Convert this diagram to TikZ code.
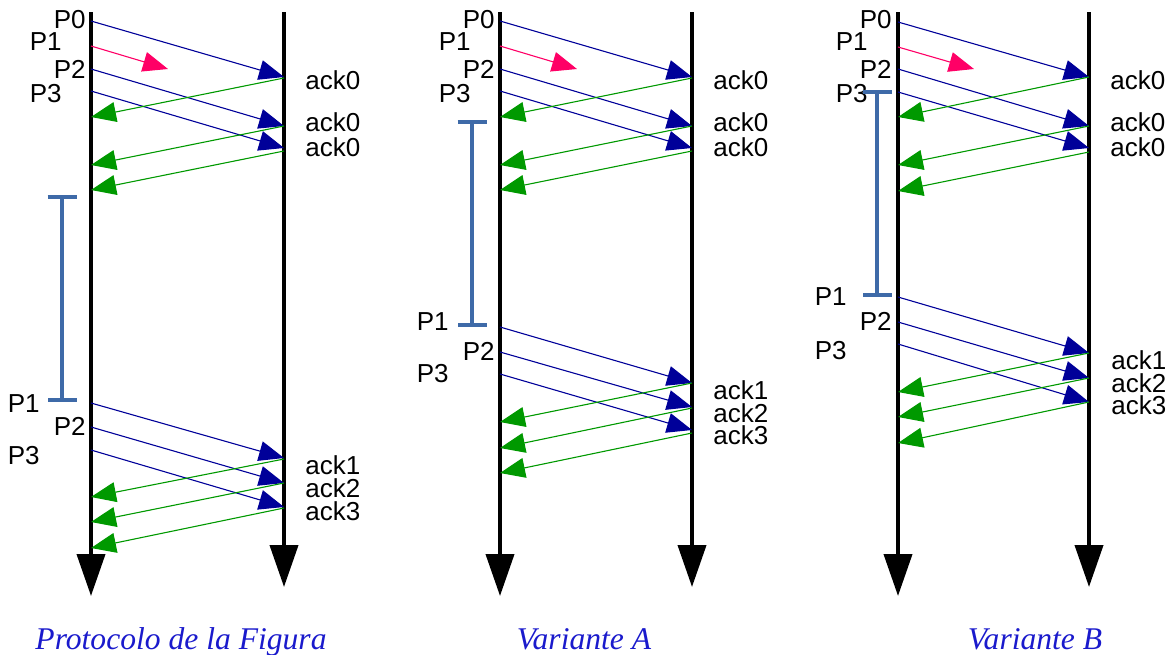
\documentclass[tikz,border=0pt]{standalone}
\usepackage{fontspec}
\setmainfont{Liberation Sans}
\newfontfamily\capfont{Liberation Serif}
\usetikzlibrary{arrows.meta}

\definecolor{msgblue}{HTML}{000099}
\definecolor{lostpink}{HTML}{FF0066}
\definecolor{ackgreen}{HTML}{009900}
\definecolor{timerblue}{HTML}{3E6AA8}
\definecolor{capblue}{HTML}{1A1ACC}

\tikzset{
  timeline/.style={line width=2pt, -{Triangle[length=21pt,width=14pt]}},
  datamsg/.style={draw=msgblue, line width=0.55pt, -{Triangle[length=12.5pt,width=10pt,fill=msgblue]}},
  lostmsg/.style={draw=lostpink, line width=0.55pt, -{Triangle[length=12.5pt,width=10pt,fill=lostpink]}},
  ackmsg/.style={draw=ackgreen, line width=0.55pt, -{Triangle[length=12.5pt,width=10pt,fill=ackgreen]}},
  timer/.style={draw=timerblue, line width=2pt, {Bar[width=14.5pt]}-{Bar[width=14.5pt]}},
  lbl/.style={font=\fontsize{13}{13}\selectfont, inner sep=0pt},
  pl/.style={lbl, anchor=east},
  al/.style={lbl, anchor=west},
  caption/.style={font=\capfont\itshape\fontsize{15.8}{16}\selectfont, text=capblue, anchor=base, inner sep=0pt}
}

\begin{document}
\begin{tikzpicture}[x=0.5pt, y=-0.5pt]
\useasboundingbox (0,0) rectangle (1171,654);

% ---------------- Protocolo de la Figura ----------------
\coordinate (aLt) at (91,12);  \coordinate (aLb) at (91,596);
\coordinate (aRt) at (284,12); \coordinate (aRb) at (284,587);
\draw[timeline] (aLt) -- (aLb);
\draw[timeline] (aRt) -- (aRb);

\coordinate (a-s0) at (91,21);  \coordinate (a-r0) at (284,77);
\coordinate (a-s1) at (91,46);  \coordinate (a-x1) at (168,69);
\coordinate (a-s2) at (91,69);  \coordinate (a-r2) at (284,126);
\coordinate (a-s3) at (91,91);  \coordinate (a-r3) at (284,148);
\coordinate (a-k0a) at (284,78);  \coordinate (a-k0ae) at (91,117);
\coordinate (a-k0b) at (284,126); \coordinate (a-k0be) at (91,165);
\coordinate (a-k0c) at (284,151); \coordinate (a-k0ce) at (91,190);
\draw[datamsg] (a-s0) -- (a-r0);
\draw[lostmsg] (a-s1) -- (a-x1);
\draw[datamsg] (a-s2) -- (a-r2);
\draw[datamsg] (a-s3) -- (a-r3);
\draw[ackmsg] (a-k0a) -- (a-k0ae);
\draw[ackmsg] (a-k0b) -- (a-k0be);
\draw[ackmsg] (a-k0c) -- (a-k0ce);

\coordinate (a-t1) at (91,403); \coordinate (a-u1) at (284,458);
\coordinate (a-t2) at (91,427); \coordinate (a-u2) at (284,483);
\coordinate (a-t3) at (91,450); \coordinate (a-u3) at (284,507);
\coordinate (a-k1) at (284,459); \coordinate (a-k1e) at (91,497);
\coordinate (a-k2) at (284,483); \coordinate (a-k2e) at (91,522);
\coordinate (a-k3) at (284,508); \coordinate (a-k3e) at (91,548);
\draw[datamsg] (a-t1) -- (a-u1);
\draw[datamsg] (a-t2) -- (a-u2);
\draw[datamsg] (a-t3) -- (a-u3);
\draw[ackmsg] (a-k1) -- (a-k1e);
\draw[ackmsg] (a-k2) -- (a-k2e);
\draw[ackmsg] (a-k3) -- (a-k3e);

\node[pl] (a-P0) at (86,19.5) {P0};
\node[pl] (a-P1) at (62,41.5) {P1};
\node[pl] (a-P2) at (86,69) {P2};
\node[pl] (a-P3) at (62,93.5) {P3};
\node[al] (a-A0a) at (305,80) {ack0};
\node[al] (a-A0b) at (305,122) {ack0};
\node[al] (a-A0c) at (305,147) {ack0};
\node[pl] (a-Q1) at (40,404) {P1};
\node[pl] (a-Q2) at (86,426) {P2};
\node[pl] (a-Q3) at (40,456) {P3};
\node[al] (a-A1) at (305,465) {ack1};
\node[al] (a-A2) at (305,488) {ack2};
\node[al] (a-A3) at (305,511) {ack3};

\coordinate (a-tm1) at (62,195); \coordinate (a-tm2) at (62,402);
\draw[timer] (a-tm1) -- (a-tm2);

\node[caption] (a-cap) at (181,649) {Protocolo de la Figura};

% ---------------- Variante A ----------------
\coordinate (bLt) at (500,12);  \coordinate (bLb) at (500,596);
\coordinate (bRt) at (692,12);  \coordinate (bRb) at (692,587);
\draw[timeline] (bLt) -- (bLb);
\draw[timeline] (bRt) -- (bRb);

\coordinate (b-s0) at (500,21);  \coordinate (b-r0) at (692,77);
\coordinate (b-s1) at (500,46);  \coordinate (b-x1) at (577,69);
\coordinate (b-s2) at (500,69);  \coordinate (b-r2) at (692,126);
\coordinate (b-s3) at (500,91);  \coordinate (b-r3) at (692,148);
\coordinate (b-k0a) at (692,78);  \coordinate (b-k0ae) at (500,117);
\coordinate (b-k0b) at (692,126); \coordinate (b-k0be) at (500,165);
\coordinate (b-k0c) at (692,151); \coordinate (b-k0ce) at (500,190);
\draw[datamsg] (b-s0) -- (b-r0);
\draw[lostmsg] (b-s1) -- (b-x1);
\draw[datamsg] (b-s2) -- (b-r2);
\draw[datamsg] (b-s3) -- (b-r3);
\draw[ackmsg] (b-k0a) -- (b-k0ae);
\draw[ackmsg] (b-k0b) -- (b-k0be);
\draw[ackmsg] (b-k0c) -- (b-k0ce);

\coordinate (b-t1) at (500,327); \coordinate (b-u1) at (692,383);
\coordinate (b-t2) at (500,352); \coordinate (b-u2) at (692,407);
\coordinate (b-t3) at (500,374); \coordinate (b-u3) at (692,430);
\coordinate (b-k1) at (692,383); \coordinate (b-k1e) at (500,422);
\coordinate (b-k2) at (692,408); \coordinate (b-k2e) at (500,448);
\coordinate (b-k3) at (692,433); \coordinate (b-k3e) at (500,473);
\draw[datamsg] (b-t1) -- (b-u1);
\draw[datamsg] (b-t2) -- (b-u2);
\draw[datamsg] (b-t3) -- (b-u3);
\draw[ackmsg] (b-k1) -- (b-k1e);
\draw[ackmsg] (b-k2) -- (b-k2e);
\draw[ackmsg] (b-k3) -- (b-k3e);

\node[pl] (b-P0) at (495,19.5) {P0};
\node[pl] (b-P1) at (471,41.5) {P1};
\node[pl] (b-P2) at (495,69) {P2};
\node[pl] (b-P3) at (471,93.5) {P3};
\node[al] (b-A0a) at (713,80) {ack0};
\node[al] (b-A0b) at (713,122) {ack0};
\node[al] (b-A0c) at (713,147) {ack0};
\node[pl] (b-Q1) at (449,322) {P1};
\node[pl] (b-Q2) at (495,351) {P2};
\node[pl] (b-Q3) at (449,374) {P3};
\node[al] (b-A1) at (713,390) {ack1};
\node[al] (b-A2) at (713,413) {ack2};
\node[al] (b-A3) at (713,435) {ack3};

\coordinate (b-tm1) at (472,120); \coordinate (b-tm2) at (472,327);
\draw[timer] (b-tm1) -- (b-tm2);

\node[caption] (b-cap) at (584,649) {Variante A};

% ---------------- Variante B ----------------
\coordinate (cLt) at (898,12);  \coordinate (cLb) at (898,596);
\coordinate (cRt) at (1089,12); \coordinate (cRb) at (1089,587);
\draw[timeline] (cLt) -- (cLb);
\draw[timeline] (cRt) -- (cRb);

\coordinate (c-s0) at (898,22);  \coordinate (c-r0) at (1089,77);
\coordinate (c-s1) at (898,47);  \coordinate (c-x1) at (974,69);
\coordinate (c-s2) at (898,69);  \coordinate (c-r2) at (1089,126);
\coordinate (c-s3) at (898,92);  \coordinate (c-r3) at (1089,148);
\coordinate (c-k0a) at (1089,77);  \coordinate (c-k0ae) at (898,117);
\coordinate (c-k0b) at (1089,126); \coordinate (c-k0be) at (898,165);
\coordinate (c-k0c) at (1089,152); \coordinate (c-k0ce) at (898,191);
\draw[datamsg] (c-s0) -- (c-r0);
\draw[lostmsg] (c-s1) -- (c-x1);
\draw[datamsg] (c-s2) -- (c-r2);
\draw[datamsg] (c-s3) -- (c-r3);
\draw[ackmsg] (c-k0a) -- (c-k0ae);
\draw[ackmsg] (c-k0b) -- (c-k0be);
\draw[ackmsg] (c-k0c) -- (c-k0ce);

\coordinate (c-t1) at (898,297); \coordinate (c-u1) at (1089,353);
\coordinate (c-t2) at (898,322); \coordinate (c-u2) at (1089,378);
\coordinate (c-t3) at (898,344); \coordinate (c-u3) at (1089,402);
\coordinate (c-k1) at (1089,353); \coordinate (c-k1e) at (898,392);
\coordinate (c-k2) at (1089,378); \coordinate (c-k2e) at (898,417);
\coordinate (c-k3) at (1089,402); \coordinate (c-k3e) at (898,443);
\draw[datamsg] (c-t1) -- (c-u1);
\draw[datamsg] (c-t2) -- (c-u2);
\draw[datamsg] (c-t3) -- (c-u3);
\draw[ackmsg] (c-k1) -- (c-k1e);
\draw[ackmsg] (c-k2) -- (c-k2e);
\draw[ackmsg] (c-k3) -- (c-k3e);

\node[pl] (c-P0) at (892,19.5) {P0};
\node[pl] (c-P1) at (868,41.5) {P1};
\node[pl] (c-P2) at (892,69) {P2};
\node[pl] (c-P3) at (868,94) {P3};
\node[al] (c-A0a) at (1110,80) {ack0};
\node[al] (c-A0b) at (1110,122) {ack0};
\node[al] (c-A0c) at (1110,147) {ack0};
\node[pl] (c-Q1) at (847,297) {P1};
\node[pl] (c-Q2) at (892,321) {P2};
\node[pl] (c-Q3) at (847,351) {P3};
\node[al] (c-A1) at (1111,360) {ack1};
\node[al] (c-A2) at (1111,383) {ack2};
\node[al] (c-A3) at (1111,405) {ack3};

\coordinate (c-tm1) at (877,90); \coordinate (c-tm2) at (877,297);
\draw[timer] (c-tm1) -- (c-tm2);

\node[caption] (c-cap) at (1035,649) {Variante B};
\end{tikzpicture}
\end{document}
